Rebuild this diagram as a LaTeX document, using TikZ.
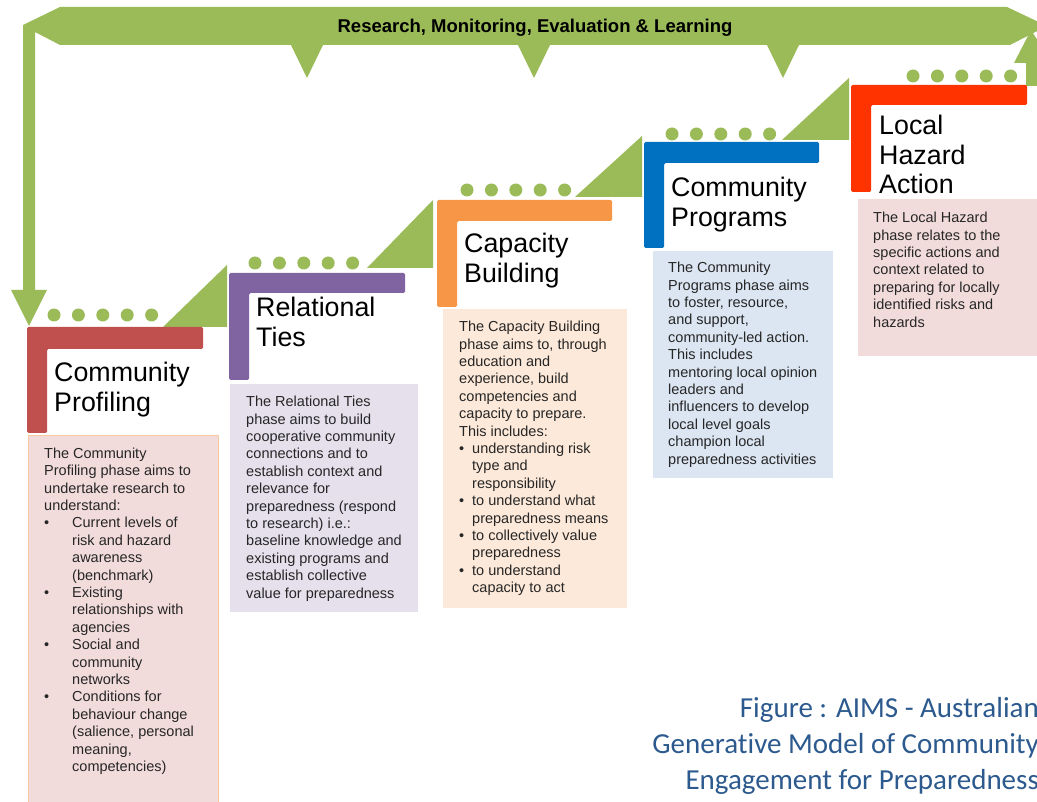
\documentclass[tikz,border=0pt]{standalone}
\usepackage{fontspec}
\setmainfont{Liberation Sans}
\newfontfamily\captionfont[RawFeature=-liga]{Carlito}
\usepackage{xcolor}
\usepackage{tikz}
\usetikzlibrary{positioning}
\definecolor{loopGreen}{HTML}{9BBB59}
\definecolor{profRed}{HTML}{C0504D}
\definecolor{tiesPurple}{HTML}{8064A2}
\definecolor{capOrange}{HTML}{F79646}
\definecolor{progBlue}{HTML}{0070C0}
\definecolor{hazRed}{HTML}{FF3300}
\definecolor{profFill}{HTML}{F2DCDB}
\definecolor{profEdge}{HTML}{FAC8A0}
\definecolor{tiesFill}{HTML}{E5E0EC}
\definecolor{capFill}{HTML}{FDE9D9}
\definecolor{progFill}{HTML}{DCE6F2}
\definecolor{captionBlue}{HTML}{2C5A8E}
% bullet and hanging indent inside the phase boxes
\newcommand{\bitem}[1]{\makebox[#1][l]{\textbullet}}
\newcommand{\bcont}[1]{\hspace*{#1}}

\begin{document}
\begin{tikzpicture}[x=1pt,y=-1pt,
    phasetitle/.style={anchor=north west,inner sep=0pt,align=left,
                       font=\fontsize{26.8}{29.5}\selectfont},
    phasetext/.style={anchor=north west,inner sep=0pt,align=left,
                      text=black!85,font=\fontsize{14.5}{17.4}\selectfont},
    phasebox/.style={anchor=north west,inner sep=0pt,fill=#1},
    looplbl/.style={anchor=base,font=\bfseries\fontsize{18.5}{20}\selectfont},
    captiontext/.style={anchor=north east,inner sep=0pt,align=right,
                        text=captionBlue,font=\captionfont\fontsize{29}{36}\selectfont}
  ]
  \useasboundingbox (0,0) rectangle (1037,802);
  \clip (0,0) rectangle (1037,802);

  % feedback loop: band across the top with its three drops and the down arrow
  \fill[loopGreen] (29,326) -- (11,290) -- (23,290) -- (23,25) -- (60,7)
    -- (1007,7) -- (1047,26) -- (1010,45)
    -- (799,45) -- (783,78) -- (767,45)
    -- (550,45) -- (534,78) -- (518,45)
    -- (323,45) -- (307,78) -- (291,45)
    -- (60,45) -- (35,32) -- (35,290) -- (47,290) -- cycle;
  % last step climbs back into the band
  \fill[loopGreen] (1026,86) -- (1026,63) -- (1014,63) -- (1031,30)
    -- (1052,63) -- (1045,86) -- cycle;
  \node[looplbl] (loop) at (535,33) {Research, Monitoring, Evaluation \& Learning};

  % risers between the steps
  \fill[loopGreen] (163,327) -- (227,265) -- (227,327) -- cycle;
  \fill[loopGreen] (367,268) -- (433,200) -- (433,268) -- cycle;
  \fill[loopGreen] (575,197) -- (642,136) -- (642,197) -- cycle;
  \fill[loopGreen] (782,140) -- (849,78) -- (849,140) -- cycle;

  % dotted tread on every step
  \foreach \sx/\sy in {54/315, 255/263, 467/190, 672/134, 913/76}
    \foreach \k in {0,...,4}
      \fill[loopGreen] (\sx+24.4*\k,\sy) circle (6.5pt);

  % the five L brackets
  \fill[profRed,rounded corners=1.5pt] (27,327) -- (203,327) -- (203,349)
    -- (47,349) -- (47,433) -- (27,433) -- cycle;
  \fill[tiesPurple,rounded corners=1.5pt] (229,273) -- (405,273) -- (405,293)
    -- (249,293) -- (249,380) -- (229,380) -- cycle;
  \fill[capOrange,rounded corners=1.5pt] (437,200) -- (612,200) -- (612,221)
    -- (457,221) -- (457,307) -- (437,307) -- cycle;
  \fill[progBlue,rounded corners=1.5pt] (644,142) -- (819,142) -- (819,163)
    -- (664,163) -- (664,248) -- (644,248) -- cycle;
  \fill[hazRed,rounded corners=1.5pt] (851,85) -- (1027,85) -- (1027,105)
    -- (871,105) -- (871,192) -- (851,192) -- cycle;

  % phase titles
  \node[phasetitle] (t1) at (54,362) {Community\\Profiling};
  \node[phasetitle] (t2) at (256,297) {Relational\\Ties};
  \node[phasetitle] (t3) at (464,233) {Capacity\\Building};
  \node[phasetitle] (t4) at (671,177) {Community\\Programs};
  \node[phasetitle] (t5) at (879,115) {Local\\Hazard\\Action};

  % description boxes
  \node[phasebox=profFill,draw=profEdge,line width=0.8pt,
        minimum width=190pt,minimum height=390pt] (box1) at (28,435) {};
  \node[phasebox=tiesFill,minimum width=188pt,minimum height=228pt] (box2) at (230,384) {};
  \node[phasebox=capFill,minimum width=184pt,minimum height=299pt] (box3) at (443,309) {};
  \node[phasebox=progFill,minimum width=180pt,minimum height=227pt] (box4) at (653,251) {};
  \node[phasebox=profFill,minimum width=190pt,minimum height=157pt] (box5) at (858,199) {};

  \node[phasetext,below right=12.5pt and 16pt of box1.north west] (b1) {%
    The Community\\
    Profiling phase aims to\\
    undertake research to\\
    understand:\\
    \bitem{28pt}Current levels of\\
    \bcont{28pt}risk and hazard\\
    \bcont{28pt}awareness\\
    \bcont{28pt}(benchmark)\\
    \bitem{28pt}Existing\\
    \bcont{28pt}relationships with\\
    \bcont{28pt}agencies\\
    \bitem{28pt}Social and\\
    \bcont{28pt}community\\
    \bcont{28pt}networks\\
    \bitem{28pt}Conditions for\\
    \bcont{28pt}behaviour change\\
    \bcont{28pt}(salience, personal\\
    \bcont{28pt}meaning,\\
    \bcont{28pt}competencies)};
  \node[phasetext,below right=12pt and 16pt of box2.north west] (b2) {%
    The Relational Ties\\
    phase aims to build\\
    cooperative community\\
    connections and to\\
    establish context and\\
    relevance for\\
    preparedness (respond\\
    to research) i.e.:\\
    baseline knowledge and\\
    existing programs and\\
    establish collective\\
    value for preparedness};
  \node[phasetext,below right=12pt and 16pt of box3.north west] (b3) {%
    The Capacity Building\\
    phase aims to, through\\
    education and\\
    experience, build\\
    competencies and\\
    capacity to prepare.\\
    This includes:\\
    \bitem{13pt}understanding risk\\
    \bcont{13pt}type and\\
    \bcont{13pt}responsibility\\
    \bitem{13pt}to understand what\\
    \bcont{13pt}preparedness means\\
    \bitem{13pt}to collectively value\\
    \bcont{13pt}preparedness\\
    \bitem{13pt}to understand\\
    \bcont{13pt}capacity to act};
  \node[phasetext,below right=11pt and 15pt of box4.north west] (b4) {%
    The Community\\
    Programs phase aims\\
    to foster, resource,\\
    and support,\\
    community-led action.\\
    This includes\\
    mentoring local opinion\\
    leaders and\\
    influencers to develop\\
    local level goals\\
    champion local\\
    preparedness activities};
  \node[phasetext,below right=13pt and 15pt of box5.north west] (b5) {%
    The Local Hazard\\
    phase relates to the\\
    specific actions and\\
    context related to\\
    preparing for locally\\
    identified risks and\\
    hazards};

  % caption
  \node[captiontext] (fig) at (1039,697)
    {Figure : AIMS - Australian\\Generative Model of Community\\Engagement for Preparedness};
\end{tikzpicture}
\end{document}
